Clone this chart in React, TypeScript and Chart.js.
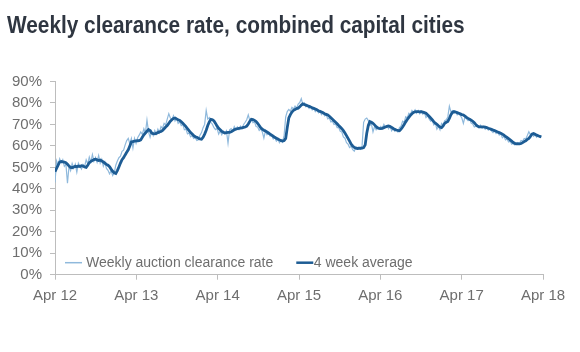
import React, { useEffect, useRef } from "react";
import { Chart, registerables } from "chart.js";

Chart.register(...registerables);

const TITLE = "Weekly clearance rate, combined capital cities";
const SERIES_WEEKLY = "Weekly auction clearance rate";
const SERIES_AVG = "4 week average";
const START_YEAR = 12;
const X_TICK_YEARS = [0, 1, 2, 3, 4, 5, 6];
const Y_TICKS = [0, 10, 20, 30, 40, 50, 60, 70, 80, 90];

// weekly values from the week of April 2012
const weekly: number[] = [
  43, 53, 51, 54, 52, 53.5, 50.5, 51.5, 42.6, 50.5,
  48.5, 51.8, 49.6, 51.5, 47.8, 52, 50.5, 49.2, 51.3, 50.4,
  53.5, 51.6, 54.8, 52.5, 56, 52.8, 54.6, 52.4, 55.5, 52,
  53.8, 50.6, 52.5, 49.5, 48.6, 47, 48.4, 46.2, 47.5, 51,
  53, 54.5, 55.2, 57.5, 58, 60.5, 62.5, 63.5, 61, 63.5,
  59, 63.5, 61.2, 63.8, 65, 66.5, 65.4, 68, 66, 72,
  66.5, 64, 66.8, 64.8, 67.2, 65.5, 67.8, 66.2, 69, 68.2,
  70.5, 69.8, 72.5, 75, 73, 72.2, 74, 71.6, 72.8, 70.5,
  71.2, 69.5, 70, 67.5, 67.8, 65.6, 66, 64.2, 64.8, 63.5,
  63.8, 62.5, 62.8, 65, 66.2, 68.5, 70, 76.5, 72.5, 73.2,
  71, 70, 68.5, 67.6, 68.2, 65.5, 67, 65.2, 66.8, 65.8,
  67, 61.2, 67.5, 68, 66.8, 69, 67.5, 68.8, 67.6, 69.2,
  68.2, 70, 71, 72.2, 74.5, 71.8, 72.6, 70.8, 71.2, 69,
  68.8, 67.2, 68, 66.5, 63.6, 67, 65.2, 66, 64.6, 64.8,
  63.2, 64, 62.2, 63, 61.5, 62.8, 61.8, 65, 73.5, 76,
  77, 76.2, 78, 77.2, 78.5, 77.6, 79.5, 80.2, 82, 79.2,
  80, 78.2, 78.8, 77.5, 78.4, 76.8, 77.6, 76, 76.8, 75.4,
  76, 74.6, 75.5, 74, 74.4, 72.6, 73, 71.2, 71.5, 70,
  70.2, 68.5, 68.6, 66.8, 66.5, 64.2, 63.6, 61.5, 60.8, 59.2,
  59.8, 58.2, 57.5, 59.5, 58.6, 59.2, 58.5, 60, 71, 72.5,
  73, 71.8, 69.5, 70.2, 66.5, 69, 67.5, 68.8, 67.8, 69,
  68.2, 70, 68.8, 69.5, 68, 69.2, 67, 68.2, 66.8, 67.5,
  66.5, 68.5, 69.2, 71.5, 71, 73.6, 73, 75.2, 74.6, 76.5,
  75.5, 76.8, 75.2, 76.5, 75, 76.2, 74.8, 75.6, 73.2, 74,
  72.6, 71.5, 72, 69.8, 70.5, 67.8, 69.2, 67.5, 70.5, 69.8,
  71.8, 72.2, 73.5, 78.5, 75.8, 76.4, 75.2, 76, 74.5, 75.4,
  74.2, 73, 70.5, 73.5, 72.6, 71.8, 72.4, 70.6, 70.2, 68.8,
  69.2, 69.8, 68.5, 69.6, 68.2, 69, 67.8, 68.6, 67.4, 68,
  67, 66.2, 67.2, 65.8, 66.4, 65, 65.6, 63.8, 64.5, 62.8,
  63.2, 61.8, 62.2, 60.8, 61.2, 60.4, 61, 61.6, 61.2, 62.5,
  62.2, 63.5, 63.2, 64.8, 66.6, 65.2, 65.8, 64.5, 65.2, 64,
  64.8, 64.2, 64.6,
];

const average: number[] = [
  48, 49.5, 51, 52.5, 52.8, 52.6, 52.4, 52.2, 51.5, 50.6,
  50, 49.8, 50.2, 50.5, 50.3, 50.6, 50.4, 50.8, 50.6, 50.2,
  50, 51, 52.2, 52.8, 53.2, 53.6, 53.8, 53.5, 53.2, 53.4,
  53, 52.5, 52, 51.4, 51, 50.3, 49.2, 48.2, 47.5, 47.2,
  48.5, 50.2, 52, 53.6, 54.5, 55.8, 57, 58.2, 60, 61.8,
  62, 62.2, 62.3, 62.4, 62.5, 62.8, 64, 65.2, 66, 66.8,
  67.6, 67.2, 66, 65.7, 65.6, 65.8, 66.2, 66.5, 66.7, 67.2,
  68, 68.8, 69.5, 70.5, 71.5, 72.2, 72.8, 73, 72.6, 72.2,
  71.9, 71.2, 70.5, 69.8, 69, 68, 67.1, 66.2, 65.5, 64.8,
  64.3, 64, 63.6, 63.3, 63.1, 64, 65.5, 67.3, 69.5, 71.2,
  72.4, 72.2, 71.6, 70.5, 69.2, 68.2, 67.5, 66.8, 66.3, 66,
  66.2, 66.3, 66.3, 66.6, 67, 67.5, 67.8, 68, 68.2, 68.3,
  68.4, 68.6, 68.8, 69.2, 70.2, 71.5, 72.4, 72.3, 71.9, 71.4,
  70.5, 69.5, 68.4, 67.8, 67.3, 66.9, 66.5, 66, 65.5, 65,
  64.5, 64, 63.6, 63.2, 62.8, 62.4, 62.3, 62.5, 63.5, 68.5,
  73, 74.6, 75.8, 76.6, 77, 77.4, 77.6, 78.2, 79, 79.6,
  79.3, 79, 78.7, 78.4, 78.1, 77.8, 77.5, 77.2, 76.8, 76.4,
  76.1, 75.8, 75.4, 75, 74.7, 74.4, 73.8, 73.1, 72.4, 71.7,
  71, 70.3, 69.5, 68.8, 68, 67.1, 66, 64.8, 63.5, 62.2,
  60.8, 60, 59.3, 58.9, 58.8, 58.9, 58.9, 59, 59.2, 60.5,
  65.9, 69.5, 71.3, 71, 70.5, 69.8, 69, 68.4, 68.2, 68.1,
  68.2, 68.5, 68.8, 69.1, 69.3, 69, 68.6, 68.1, 67.7, 67.4,
  67.2, 67.1, 67.8, 68.8, 70, 71.2, 72.3, 73.3, 74.2, 75,
  75.6, 75.9, 76, 76, 75.9, 75.9, 75.7, 75.5, 75.2, 74.5,
  73.8, 73, 72.2, 71.3, 70.6, 70.1, 69.4, 68.8, 68.5, 69.3,
  70.5, 71, 71.4, 72.8, 74.5, 75.6, 76, 75.8, 75.5, 75.2,
  74.9, 74.6, 74.4, 73.9, 73.3, 72.8, 72.4, 72, 71.5, 70.8,
  69.9, 69.2, 68.9, 68.9, 68.9, 68.9, 68.7, 68.5, 68.2, 68,
  67.7, 67.4, 67.1, 66.8, 66.5, 66.2, 65.9, 65.5, 65, 64.4,
  63.9, 63.4, 62.8, 62.2, 61.6, 61.2, 61, 60.9, 60.9, 61.1,
  61.5, 62, 62.4, 63, 63.5, 64.4, 65.5, 65.8, 65.4, 65,
  64.7, 64.4, 64.2,
];

const WEEKLY_COLOR = "#8fb9dc";
const AVG_COLOR = "#1d5c94";
const AXIS_COLOR = "#bdbdbd";
const TEXT_COLOR = "#6e6e6e";
const FONT = "'Liberation Sans', Arial, sans-serif";

const toPoints = (arr: number[]) =>
  arr.map((v, i) => ({ x: (i * 7) / 365.25, y: v }));

const legendPlugin = {
  id: "insideLegend",
  afterDatasetsDraw(chart: any) {
    const { ctx, chartArea } = chart;
    ctx.save();
    ctx.font = `14px ${FONT}`;
    ctx.textBaseline = "middle";
    ctx.fillStyle = TEXT_COLOR;
    const y = chartArea.bottom - 12;
    let x = chartArea.left + 10;
    ctx.strokeStyle = WEEKLY_COLOR;
    ctx.lineWidth = 1.5;
    ctx.beginPath();
    ctx.moveTo(x, y);
    ctx.lineTo(x + 17, y);
    ctx.stroke();
    ctx.fillText(SERIES_WEEKLY, x + 21, y);
    x = x + 21 + ctx.measureText(SERIES_WEEKLY).width + 23;
    ctx.strokeStyle = AVG_COLOR;
    ctx.lineWidth = 2.5;
    ctx.beginPath();
    ctx.moveTo(x, y);
    ctx.lineTo(x + 17, y);
    ctx.stroke();
    ctx.fillText(SERIES_AVG, x + 17.5, y);
    ctx.restore();
  },
};

export default function App() {
  const ref = useRef<HTMLCanvasElement | null>(null);

  useEffect(() => {
    if (!ref.current) return;
    const chart = new Chart(ref.current, {
      type: "line",
      data: {
        datasets: [
          {
            label: SERIES_AVG,
            data: toPoints(average),
            borderColor: AVG_COLOR,
            borderWidth: 2.8,
            pointRadius: 0,
            tension: 0,
            order: 0,
          },
          {
            label: SERIES_WEEKLY,
            data: toPoints(weekly),
            borderColor: WEEKLY_COLOR,
            borderWidth: 1.2,
            pointRadius: 0,
            tension: 0,
            order: 1,
          },
        ],
      },
      options: {
        responsive: false,
        animation: false,
        layout: { padding: { left: 0, right: 37, top: 81.5, bottom: 0 } },
        plugins: {
          legend: { display: false },
          title: { display: false },
          tooltip: { enabled: false },
        },
        scales: {
          x: {
            type: "linear",
            min: 0,
            max: 6,
            afterBuildTicks: (scale: any) => {
              scale.ticks = X_TICK_YEARS.map((v) => ({ value: v }));
            },
            afterFit: (scale: any) => {
              scale.height = 352 - 274.7;
            },
            ticks: {
              autoSkip: false,
              maxRotation: 0,
              padding: 7,
              color: TEXT_COLOR,
              font: { family: FONT, size: 15 },
              callback: (v: any) => `Apr ${START_YEAR + Number(v)}`,
            },
            grid: {
              drawOnChartArea: false,
              drawTicks: true,
              tickLength: 5,
              color: AXIS_COLOR,
            },
            border: { color: AXIS_COLOR, width: 1 },
          },
          y: {
            min: 0,
            max: 90,
            afterBuildTicks: (scale: any) => {
              scale.ticks = Y_TICKS.map((v) => ({ value: v }));
            },
            afterFit: (scale: any) => {
              scale.width = 55;
            },
            ticks: {
              padding: 8,
              color: TEXT_COLOR,
              font: { family: FONT, size: 15 },
              callback: (v: any) => `${v}%`,
            },
            grid: {
              drawOnChartArea: false,
              drawTicks: true,
              tickLength: 5,
              color: AXIS_COLOR,
            },
            border: { color: AXIS_COLOR, width: 1 },
          },
        },
      },
      plugins: [legendPlugin],
    });
    return () => chart.destroy();
  }, []);

  return (
    <div
      style={{
        position: "absolute",
        left: 0,
        top: 0,
        width: 580,
        height: 352,
        background: "#ffffff",
        overflow: "hidden",
      }}
    >
      <canvas
        ref={ref}
        width={580}
        height={352}
        style={{ position: "absolute", left: 0, top: 0 }}
      />
      <div
        style={{
          position: "absolute",
          left: 7,
          top: 13,
          fontFamily: FONT,
          fontWeight: "bold",
          fontSize: 24,
          lineHeight: "24px",
          color: "#2f3641",
          whiteSpace: "nowrap",
          transformOrigin: "left top",
          transform: "scaleX(0.867)",
        }}
      >
        {TITLE}
      </div>
    </div>
  );
}
